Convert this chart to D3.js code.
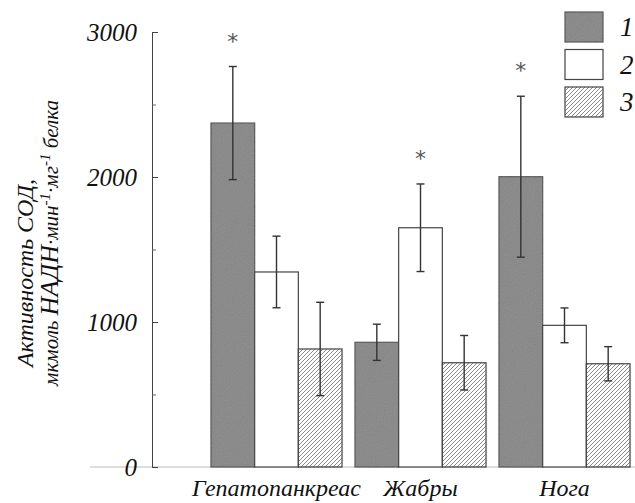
<!DOCTYPE html>
<html>
<head>
<meta charset="utf-8">
<script src="https://cdn.jsdelivr.net/npm/d3@7"></script>
</head>
<body style="margin:0; background:#fff;">
<svg id="chart" width="635" height="503"></svg>
<script>
// data
var tissues = ["Гепатопанкреас", "Жабры", "Нога"];
var series = ["1", "2", "3"];
var means = [
  [2372, 1345, 814],   // Гепатопанкреас
  [860, 1650, 719],    // Жабры
  [2002, 977, 712]     // Нога
];
var errs = [
  [390, 247, 322],
  [125, 302, 188],
  [555, 120, 118]
];
var signif = [
  [true, false, false],
  [false, true, false],
  [true, false, false]
];
var yTicks = [0, 1000, 2000, 3000];
var yMinor = [500, 1500, 2500];

var svg = d3.select("#chart");

// serif italic text helper
function serif(sel, size) {
  return sel.attr("font-family", "Liberation Serif")
    .attr("font-style", "italic")
    .attr("font-size", size)
    .attr("fill", "#111");
}

var x0 = d3.scaleBand().domain(tissues)
    .range([204.5, 636.5]).paddingInner(0.09).paddingOuter(0.045);
var x1 = d3.scaleBand().domain(series).range([0, x0.bandwidth()]);
var y = d3.scaleLinear().domain([0, 3000]).range([467, 32]);

// hatch for series 3
var defs = svg.append("defs");
defs.append("pattern")
    .attr("id", "hatch")
    .attr("patternUnits", "userSpaceOnUse")
    .attr("width", 4).attr("height", 4)
  .append("path")
    .attr("d", "M-1,1 l2,-2 M0,4 l4,-4 M3,5 l2,-2")
    .attr("stroke", "#8a8a8a")
    .attr("stroke-width", 1);

// a bit of grain for the dark bars
var f = defs.append("filter").attr("id", "grain");
f.append("feTurbulence").attr("type", "fractalNoise").attr("baseFrequency", 0.9).attr("numOctaves", 1).attr("result", "n");
f.append("feColorMatrix").attr("in", "n").attr("type", "matrix")
  .attr("values", "0 0 0 0 0.5  0 0 0 0 0.5  0 0 0 0 0.5  0 0 0 0.25 0").attr("result", "g");
f.append("feComposite").attr("in", "g").attr("in2", "SourceGraphic").attr("operator", "in").attr("result", "gc");
f.append("feMerge").selectAll("feMergeNode").data(["SourceGraphic", "gc"]).enter()
  .append("feMergeNode").attr("in", function(d) { return d; });

var fills = { "1": "#828282", "2": "#ffffff", "3": "url(#hatch)" };

// baseline
svg.append("line")
    .attr("x1", 90).attr("x2", 635)
    .attr("y1", y(0)).attr("y2", y(0))
    .attr("stroke", "#bbb").attr("stroke-width", 1);

// bars
var rows = [];
tissues.forEach(function(t, i) {
  series.forEach(function(s, j) {
    rows.push({ t: t, s: s, v: means[i][j], e: errs[i][j], sig: signif[i][j] });
  });
});

var g = svg.append("g");
g.selectAll("rect.bar")
  .data(rows).enter()
  .append("rect")
    .attr("class", "bar")
    .attr("x", function(d) { return x0(d.t) + x1(d.s); })
    .attr("y", function(d) { return y(d.v); })
    .attr("width", x1.bandwidth())
    .attr("height", function(d) { return y(0) - y(d.v); })
    .attr("fill", function(d) { return fills[d.s]; })
    .attr("filter", function(d) { return d.s == "1" ? "url(#grain)" : null; })
    .attr("stroke", "#444")
    .attr("stroke-width", 1.2);

// error bars
var eb = g.selectAll("g.err").data(rows).enter().append("g").attr("class", "err")
    .attr("stroke", "#333").attr("stroke-width", 1.4);
function cx(d) { return x0(d.t) + x1(d.s) + x1.bandwidth() / 2; }
eb.append("line")
    .attr("x1", cx).attr("x2", cx)
    .attr("y1", function(d) { return y(d.v - d.e); })
    .attr("y2", function(d) { return y(d.v + d.e); });
eb.append("line")
    .attr("x1", function(d) { return cx(d) - 4; }).attr("x2", function(d) { return cx(d) + 4; })
    .attr("y1", function(d) { return y(d.v + d.e); }).attr("y2", function(d) { return y(d.v + d.e); });
eb.append("line")
    .attr("x1", function(d) { return cx(d) - 4; }).attr("x2", function(d) { return cx(d) + 4; })
    .attr("y1", function(d) { return y(d.v - d.e); }).attr("y2", function(d) { return y(d.v - d.e); });

// asterisks
g.selectAll("text.star")
  .data(rows.filter(function(d) { return d.sig; })).enter()
  .append("text")
    .attr("class", "star")
    .attr("x", cx)
    .attr("y", function(d) { return y(d.v + d.e) - 18; })
    .attr("text-anchor", "middle")
    .attr("font-family", "DejaVu Sans")
    .attr("font-size", 22)
    .attr("fill", "#555")
    .text("*");

// y axis, ticks pointing inwards
var yAxis = svg.append("g")
    .attr("transform", "translate(152,0)")
    .call(d3.axisLeft(y).tickValues(yTicks).tickFormat(d3.format("d"))
      .tickSize(-6).tickSizeOuter(0).tickPadding(15));
yAxis.attr("font-family", null).attr("font-size", null);
yAxis.select(".domain").attr("stroke", "#444");
yAxis.selectAll(".tick line").attr("stroke", "#444");
serif(yAxis.selectAll(".tick text"), 25).attr("dy", "0.35em");

var yMinorAxis = svg.append("g")
    .attr("transform", "translate(152,0)")
    .call(d3.axisLeft(y).tickValues(yMinor).tickSize(-4).tickFormat(""));
yMinorAxis.select(".domain").remove();
yMinorAxis.selectAll(".tick line").attr("stroke", "#666");

// category labels
serif(svg.selectAll("text.cat")
  .data(tissues).enter()
  .append("text")
    .attr("class", "cat")
    .attr("x", function(d) { return x0(d) + x0.bandwidth() / 2; })
    .attr("y", 496)
    .attr("text-anchor", "middle"), 24)
    .text(function(d) { return d; });

// y title, two lines
serif(svg.append("text")
    .attr("transform", "translate(33,273) rotate(-90)")
    .attr("text-anchor", "middle"), 24)
    .text("Активность СОД,");

var t2 = serif(svg.append("text")
    .attr("transform", "translate(58,243) rotate(-90)")
    .attr("text-anchor", "middle"), 21);
t2.append("tspan").text("мкмоль ");
t2.append("tspan").attr("font-size", 26).text("НАДН");
t2.append("tspan").text("·мин");
t2.append("tspan").attr("dy", -8).attr("font-size", 15).text("-1");
t2.append("tspan").attr("dy", 8).text("·мг");
t2.append("tspan").attr("dy", -8).attr("font-size", 15).text("-1");
t2.append("tspan").attr("dy", 8).text(" белка");

// legend
var leg = svg.append("g").selectAll("g")
  .data(series).enter()
  .append("g")
    .attr("transform", function(d, i) { return "translate(565," + (12 + i * 37.5) + ")"; });
leg.append("rect")
    .attr("width", 38).attr("height", 30)
    .attr("fill", function(d) { return fills[d]; })
    .attr("filter", function(d) { return d == "1" ? "url(#grain)" : null; })
    .attr("stroke", "#444").attr("stroke-width", 1.2);
serif(leg.append("text")
    .attr("x", 55).attr("y", 24), 27)
    .text(function(d) { return d; });
</script>
</body>
</html>
